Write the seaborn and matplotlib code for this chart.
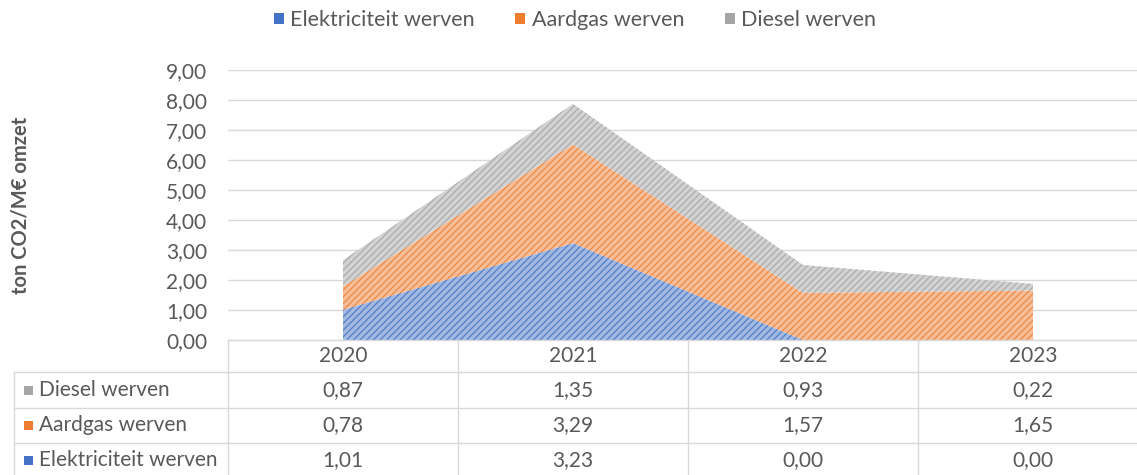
import numpy as np
import pandas as pd
import matplotlib
matplotlib.use("Agg")
import matplotlib.pyplot as plt
import matplotlib.transforms as mtransforms
from matplotlib.lines import Line2D
from matplotlib.patches import Rectangle, Patch
import seaborn as sns

# ---- data ----
years = ["2020", "2021", "2022", "2023"]
elektriciteit = [1.01, 3.23, 0.00, 0.00]
aardgas = [0.78, 3.29, 1.57, 1.65]
diesel = [0.87, 1.35, 0.93, 0.22]
series_names = ["Elektriciteit werven", "Aardgas werven", "Diesel werven"]
y_ticks = [0, 1, 2, 3, 4, 5, 6, 7, 8, 9]
y_label = "ton CO2/M€ omzet"

colors = ["#4472C4", "#ED7D31", "#A5A5A5"]

sns.set_theme(style="white")
plt.rcParams["font.family"] = ["Lato", "DejaVu Sans"]
plt.rcParams["hatch.linewidth"] = 1.0
TXT = "#595959"
GRID = "#D9D9D9"
FS = 15

W, H = 1137, 475
fig = plt.figure(figsize=(W / 100, H / 100), dpi=100)
ax = fig.add_axes([228 / W, 135 / H, 920 / W, 270 / H])

df = pd.DataFrame({"year": years, series_names[0]: elektriciteit,
                   series_names[1]: aardgas, series_names[2]: diesel})
x = np.arange(len(years))


def tint(c, f):
    r, g, b = matplotlib.colors.to_rgb(c)
    return (r + (1 - r) * f, g + (1 - g) * f, b + (1 - b) * f)


polys = ax.stackplot(x, df[series_names[0]], df[series_names[1]], df[series_names[2]],
                     colors=[tint(c, 0.5) for c in colors], linewidth=0)
for p, c in zip(polys, colors):
    p.set_hatch("/////")
    p.set_edgecolor(tint(c, 0.12))
    p.set_linewidth(0)

ax.set_xlim(-0.5, len(years) - 0.5)
ax.set_ylim(0, 9)
ax.set_yticks(y_ticks)
ax.set_yticklabels([f"{v:.2f}".replace(".", ",") for v in y_ticks], color=TXT, fontsize=FS)
ax.set_xticks([])
ax.tick_params(axis="y", length=0, pad=15)
ax.grid(axis="y", color=GRID, linewidth=1)
ax.set_axisbelow(True)
for s in ax.spines.values():
    s.set_visible(False)

fig.text(21 / W, 1 - 205 / H, y_label, rotation=90, ha="center", va="center",
         fontsize=14.5, fontweight="bold", color=TXT)

# ---- legend ----
handles = [Patch(facecolor=c, edgecolor="none") for c in colors]
fig.legend(handles, series_names, loc="center", bbox_to_anchor=(575 / W, 1 - 20 / H),
           ncol=3, frameon=False, fontsize=15.5, handlelength=0.45, handleheight=0.45,
           handletextpad=0.3, columnspacing=1.9, labelcolor=TXT)

# ---- data table ----
tr = mtransforms.blended_transform_factory(ax.transData, fig.transFigure)


def fy(px):
    return 1 - px / H


# header row
for i, yr in enumerate(years):
    fig.text(x[i], fy(356), yr, transform=tr, ha="center", va="center", fontsize=FS, color=TXT)

rows = [(series_names[2], diesel, colors[2]),
        (series_names[1], aardgas, colors[1]),
        (series_names[0], elektriciteit, colors[0])]
row_y = [390, 425, 460]
for (name, vals, c), ry in zip(rows, row_y):
    fig.add_artist(Rectangle((24 / W, fy(ry + 4.5)), 9 / W, 9 / H, transform=fig.transFigure,
                             facecolor=c, edgecolor="none"))
    fig.text(39 / W, fy(ry), name, ha="left", va="center", fontsize=FS, color=TXT)
    for i, v in enumerate(vals):
        fig.text(x[i], fy(ry), f"{v:.2f}".replace(".", ","), transform=tr,
                 ha="center", va="center", fontsize=FS, color=TXT)

# table lines
fig.add_artist(Line2D([228 / W, 1], [fy(340), fy(340)], transform=fig.transFigure, color=GRID, lw=1))
for yl in [372, 408, 443]:
    fig.add_artist(Line2D([14 / W, 1], [fy(yl), fy(yl)], transform=fig.transFigure, color=GRID, lw=1))
fig.add_artist(Line2D([14 / W, 14 / W], [fy(372), 0], transform=fig.transFigure, color=GRID, lw=1))
for i in range(len(years)):
    fig.add_artist(Line2D([x[i] - 0.5, x[i] - 0.5], [fy(340), 0], transform=tr, color=GRID, lw=1))

fig.savefig("out.png", dpi=100)
